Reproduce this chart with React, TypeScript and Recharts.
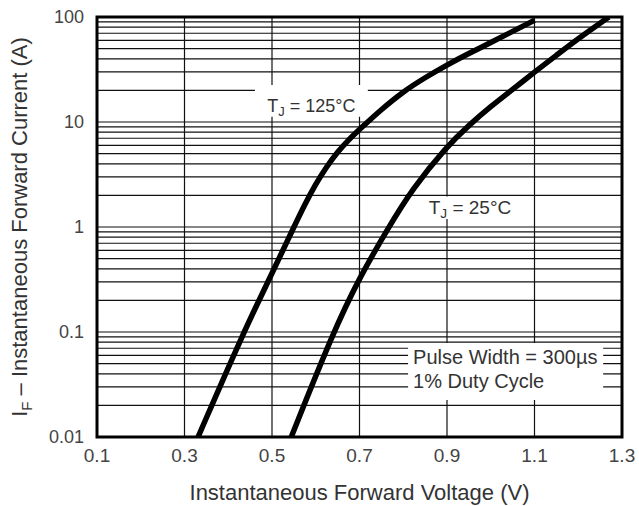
import { ComposedChart, Line, XAxis, YAxis, CartesianGrid, ReferenceArea, Label } from "recharts";

// forward voltage (V) vs forward current (A)
const hotVolts = [0.331, 0.435, 0.5, 0.55, 0.575, 0.6, 0.625, 0.65, 0.675, 0.7, 0.75, 0.8, 0.85, 0.9, 0.95, 1.0, 1.05, 1.1];
const hotAmps = [0.01, 0.1, 0.36, 1.0, 1.64, 2.57, 3.76, 5.19, 6.76, 8.5, 13.2, 19.5, 26.5, 35, 45, 57, 73, 93];

const roomVolts = [0.544, 0.64, 0.7, 0.767, 0.82, 0.9, 0.95, 1.0, 1.05, 1.1, 1.15, 1.2, 1.27];
const roomAmps = [0.01, 0.1, 0.331, 1.0, 2.29, 5.89, 9.3, 14.1, 20.4, 29.9, 43.2, 62.4, 100];

const voltTicks = [0.1, 0.3, 0.5, 0.7, 0.9, 1.1, 1.3];
const ampTicks = [0.01, 0.1, 1, 10, 100];

const gridVolts = [0.3, 0.5, 0.7, 0.9, 1.1];
const gridAmps = [
  0.02, 0.03, 0.04, 0.05, 0.06, 0.07, 0.08, 0.09,
  0.1, 0.2, 0.3, 0.4, 0.5, 0.6, 0.7, 0.8, 0.9,
  1, 2, 3, 4, 5, 6, 7, 8, 9,
  10, 20, 30, 40, 50, 60, 70, 80, 90,
];

const hotData = hotVolts.map((v, k) => ({ v, i: hotAmps[k] }));
const roomData = roomVolts.map((v, k) => ({ v, i: roomAmps[k] }));

const FONT = '"Liberation Sans", Arial, Helvetica, sans-serif';
const INK = "#333";

function TempLabel({ viewBox, temp, size }: any) {
  if (!viewBox) return null;
  const cx = viewBox.x + viewBox.width / 2;
  return (
    <text x={cx} y={viewBox.y + viewBox.height - 5} textAnchor="middle" fontFamily={FONT} fontSize={size} fill={INK}>
      <tspan>T</tspan>
      <tspan dy={4} fontSize={size * 0.72}>J</tspan>
      <tspan dy={-4}>{` = ${temp}°C`}</tspan>
    </text>
  );
}

function PulseLabel({ viewBox }: any) {
  if (!viewBox) return null;
  return (
    <text fontFamily={FONT} fontSize={20} fill={INK}>
      <tspan x={viewBox.x + 5} y={viewBox.y + 21}>Pulse Width = 300µs</tspan>
      <tspan x={viewBox.x + 5} y={viewBox.y + 45}>1% Duty Cycle</tspan>
    </text>
  );
}

function XTitle({ viewBox }: any) {
  const x = viewBox ? viewBox.x + viewBox.width / 2 : 360;
  const y = viewBox ? viewBox.y + 63 : 500;
  return (
    <text x={x} y={y} textAnchor="middle" fontFamily={FONT} fontSize={22} fill={INK}>
      Instantaneous Forward Voltage (V)
    </text>
  );
}

function YTitle({ viewBox }: any) {
  const x = viewBox ? viewBox.x + 27 : 27;
  const y = viewBox ? viewBox.y + viewBox.height / 2 : 227;
  return (
    <text x={x} y={y} textAnchor="middle" transform={`rotate(-90, ${x}, ${y})`} fontFamily={FONT} fontSize={22} fill={INK}>
      <tspan>I</tspan>
      <tspan dy={5} fontSize={15}>F</tspan>
      <tspan dy={-5}> – Instantaneous Forward Current (A)</tspan>
    </text>
  );
}

export default function App() {
  return (
    <div style={{ position: "absolute", left: 0, top: 0, width: 639, height: 506, background: "#fff" }}>
      <ComposedChart width={639} height={506} margin={{ top: 17, right: 17, bottom: 0, left: 0 }}>
        <CartesianGrid
          horizontalValues={gridAmps}
          verticalValues={gridVolts}
          stroke="#111"
          strokeWidth={1.2}
        />
        <XAxis
          type="number"
          dataKey="v"
          domain={[0.1, 1.3]}
          ticks={voltTicks}
          interval={0}
          allowDataOverflow
          height={69}
          axisLine={false}
          tickLine={false}
          tickSize={0}
          tickMargin={12}
          tick={{ fontSize: 19, fill: "#444", fontFamily: FONT }}
        >
          <Label content={<XTitle />} />
        </XAxis>
        <YAxis
          type="number"
          scale="log"
          domain={[0.01, 100]}
          ticks={ampTicks}
          interval={0}
          allowDataOverflow
          width={97}
          axisLine={false}
          tickLine={false}
          tickSize={0}
          tickMargin={13}
          tick={{ fontSize: 18, fill: "#444", fontFamily: FONT }}
        >
          <Label content={<YTitle />} />
        </YAxis>
        <ReferenceArea x1={0.461} x2={0.719} y1={11.2} y2={22.5} fill="#fff" fillOpacity={1} stroke="none"
          label={<TempLabel temp={125} size={18} />} />
        <ReferenceArea x1={0.845} x2={1.06} y1={1.19} y2={1.95} fill="#fff" fillOpacity={1} stroke="none"
          label={<TempLabel temp={25} size={19} />} />
        <ReferenceArea x1={0.811} x2={1.257} y1={0.0225} y2={0.0785} fill="#fff" fillOpacity={1} stroke="none"
          label={<PulseLabel />} />
        <ReferenceArea x1={0.1} x2={1.3} y1={0.01} y2={100} fill="none" stroke="#000" strokeWidth={3} />
        <Line data={hotData} dataKey="i" type="basis" stroke="#000" strokeWidth={5.5} dot={false} isAnimationActive={false} />
        <Line data={roomData} dataKey="i" type="basis" stroke="#000" strokeWidth={5.5} dot={false} isAnimationActive={false} />
      </ComposedChart>
    </div>
  );
}
